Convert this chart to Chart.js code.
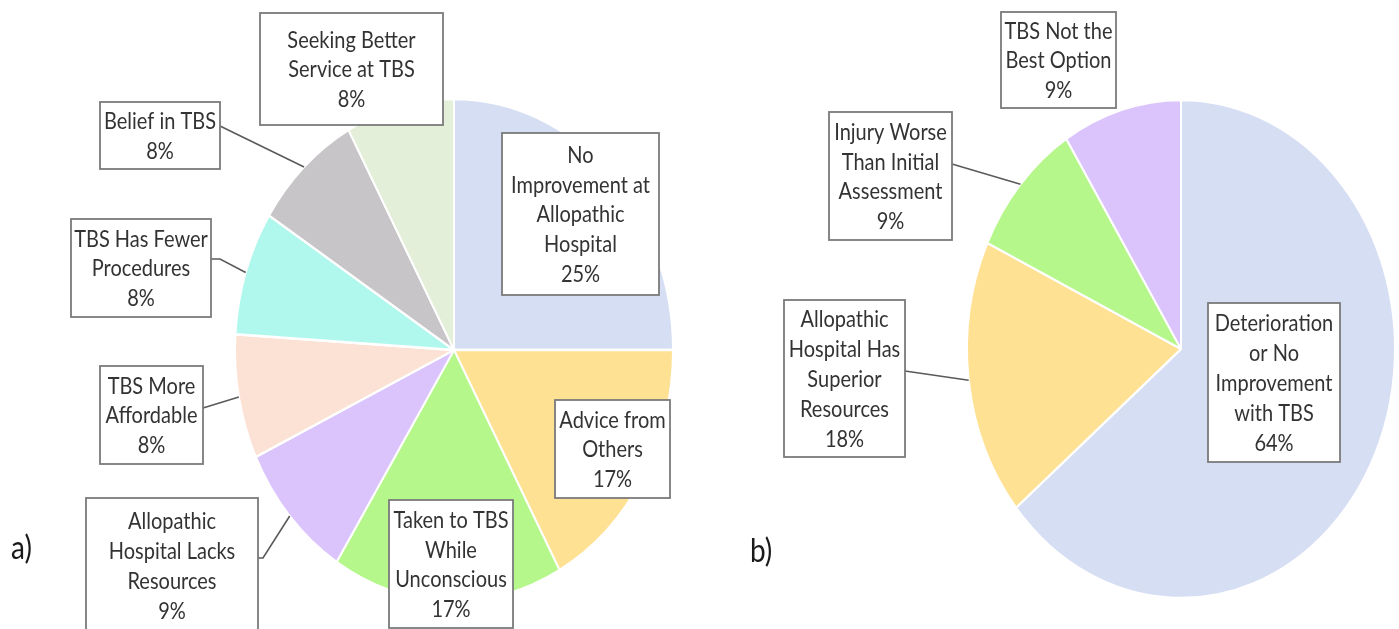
<!DOCTYPE html>
<html>
<head>
<meta charset="utf-8">
<script src="https://cdn.jsdelivr.net/npm/chart.js@4/dist/chart.umd.min.js"></script>
<style>
  html, body { margin: 0; padding: 0; background: #ffffff; width: 1399px; height: 629px; overflow: hidden; }
  canvas { position: absolute; left: 0; top: 0; filter: blur(0.45px); }
</style>
</head>
<body>
<canvas id="pieA" width="1399" height="629"></canvas>
<canvas id="pieB" width="1399" height="629"></canvas>
<script>
// a) reasons for going to a traditional bone setter (TBS)
const categoriesA = [
  'No\nImprovement at\nAllopathic\nHospital',
  'Advice from\nOthers',
  'Taken to TBS\nWhile\nUnconscious',
  'Allopathic\nHospital Lacks\nResources',
  'TBS More\nAffordable',
  'TBS Has Fewer\nProcedures',
  'Belief in TBS',
  'Seeking Better\nService at TBS'
];
const valuesA = [25, 17, 17, 9, 8, 8, 8, 8];

// b) reasons for leaving the TBS
const categoriesB = [
  'Deterioration\nor No\nImprovement\nwith TBS',
  'Allopathic\nHospital Has\nSuperior\nResources',
  'Injury Worse\nThan Initial\nAssessment',
  'TBS Not the\nBest Option'
];
const valuesB = [64, 18, 9, 9];

const coloursA = ['#d5def2', '#ffe194', '#b6f78c', '#dbc4fc', '#fbe2d4', '#b0f8ee', '#c8c5c8', '#e3efd9'];
const coloursB = ['#d5def2', '#ffe194', '#b6f78c', '#dbc4fc'];

// Callout boxes: rectangle [x1, y1, x2, y2], optional leader start and horizontal stub
const calloutsA = [
  { box: [502, 133, 659, 295] },
  { box: [555, 400, 670, 498] },
  { box: [389, 500, 513, 628] },
  { box: [86, 498, 258, 633], lead: [258, 558], stub: 5 },
  { box: [100, 366, 203, 464], lead: [203, 408], stub: 0 },
  { box: [71, 219, 211, 317], lead: [211, 259], stub: 9 },
  { box: [100, 102, 220, 169], lead: [220, 126], stub: 0 },
  { box: [260, 13, 443, 125] }
];
const calloutsB = [
  { box: [1208, 303, 1340, 462] },
  { box: [784, 300, 905, 457], lead: [905, 371], stub: 0 },
  { box: [829, 112, 952, 240], lead: [952, 164], stub: 0 },
  { box: [1001, 12, 1116, 108] }
];

const FONT = '20px Lato, "Open Sans", sans-serif';
const TEXT_STRETCH = 1.15;
const LINE_GAP = 29.8;

// Stretches the pie vertically into an ellipse
const ellipsePlugin = {
  id: 'ellipse',
  beforeDatasetsDraw(chart, args, opts) {
    const arc = chart.getDatasetMeta(0).data[0];
    const ctx = chart.ctx;
    ctx.save();
    ctx.translate(arc.x, arc.y);
    ctx.scale(1, opts.stretch);
    ctx.translate(-arc.x, -arc.y);
  },
  afterDatasetsDraw(chart) {
    chart.ctx.restore();
  }
};

// Boxed data labels with leader lines, plus the panel letter
const calloutPlugin = {
  id: 'callouts',
  afterDraw(chart, args, opts) {
    const ctx = chart.ctx;
    const meta = chart.getDatasetMeta(0);
    const values = chart.data.datasets[0].data;
    const k = opts.stretch;
    opts.items.forEach((item, i) => {
      const arc = meta.data[i];
      const [x1, y1, x2, y2] = item.box;
      if (item.lead) {
        const mid = (arc.startAngle + arc.endAngle) / 2;
        const px = arc.x + arc.outerRadius * Math.cos(mid);
        const py = arc.y + arc.outerRadius * Math.sin(mid) * k;
        ctx.save();
        ctx.strokeStyle = '#5a5a5a';
        ctx.lineWidth = 1.6;
        ctx.beginPath();
        ctx.moveTo(item.lead[0], item.lead[1]);
        if (item.stub) ctx.lineTo(item.lead[0] + item.stub, item.lead[1]);
        ctx.lineTo(px, py);
        ctx.stroke();
        ctx.restore();
      }
      ctx.save();
      ctx.fillStyle = '#ffffff';
      ctx.fillRect(x1, y1, x2 - x1, y2 - y1);
      ctx.strokeStyle = '#7a7a7a';
      ctx.lineWidth = 1.8;
      ctx.strokeRect(x1, y1, x2 - x1, y2 - y1);
      ctx.fillStyle = '#333333';
      ctx.font = FONT;
      ctx.textAlign = 'center';
      ctx.textBaseline = 'middle';
      const lines = chart.data.labels[i].split('\n').concat([values[i] + '%']);
      const cx = (x1 + x2) / 2;
      const cy = (y1 + Math.min(y2, 633)) / 2 + 1;
      lines.forEach((t, j) => {
        const y = cy + (j - (lines.length - 1) / 2) * LINE_GAP;
        ctx.save();
        ctx.translate(cx, y);
        ctx.scale(1, TEXT_STRETCH);
        ctx.fillText(t, 0, 0);
        ctx.restore();
      });
      ctx.restore();
    });
    // panel letter
    ctx.save();
    ctx.fillStyle = '#1a1a1a';
    ctx.font = '28px Lato, "Open Sans", sans-serif';
    ctx.textAlign = 'left';
    ctx.textBaseline = 'middle';
    ctx.translate(opts.letterPos[0], opts.letterPos[1]);
    ctx.scale(1, TEXT_STRETCH);
    ctx.fillText(opts.letter, 0, 0);
    ctx.restore();
  }
};

function makePie(id, labels, values, colours, center, radius, stretch, callouts, letter, letterPos) {
  // square chart area centred on the pie, never reaching past the canvas edge
  const half = Math.min(center[0], 1399 - center[0], center[1], 629 - center[1]) - 1;
  return new Chart(document.getElementById(id), {
    type: 'pie',
    data: {
      labels: labels,
      datasets: [{
        data: values,
        backgroundColor: colours,
        borderColor: '#ffffff',
        borderWidth: 2,
        radius: radius,
        clip: false
      }]
    },
    options: {
      responsive: false,
      animation: false,
      events: [],
      layout: {
        padding: {
          left: center[0] - half,
          right: 1399 - center[0] - half,
          top: center[1] - half,
          bottom: 629 - center[1] - half
        }
      },
      plugins: {
        legend: { display: false },
        tooltip: { enabled: false },
        ellipse: { stretch: stretch },
        callouts: { stretch: stretch, items: callouts, letter: letter, letterPos: letterPos }
      }
    },
    plugins: [ellipsePlugin, calloutPlugin]
  });
}

makePie('pieA', categoriesA, valuesA, coloursA, [454, 350], 219, 251 / 219, calloutsA, 'a)', [11, 549]);
makePie('pieB', categoriesB, valuesB, coloursB, [1181, 349], 214, 249 / 214, calloutsB, 'b)', [750, 552]);
</script>
</body>
</html>
